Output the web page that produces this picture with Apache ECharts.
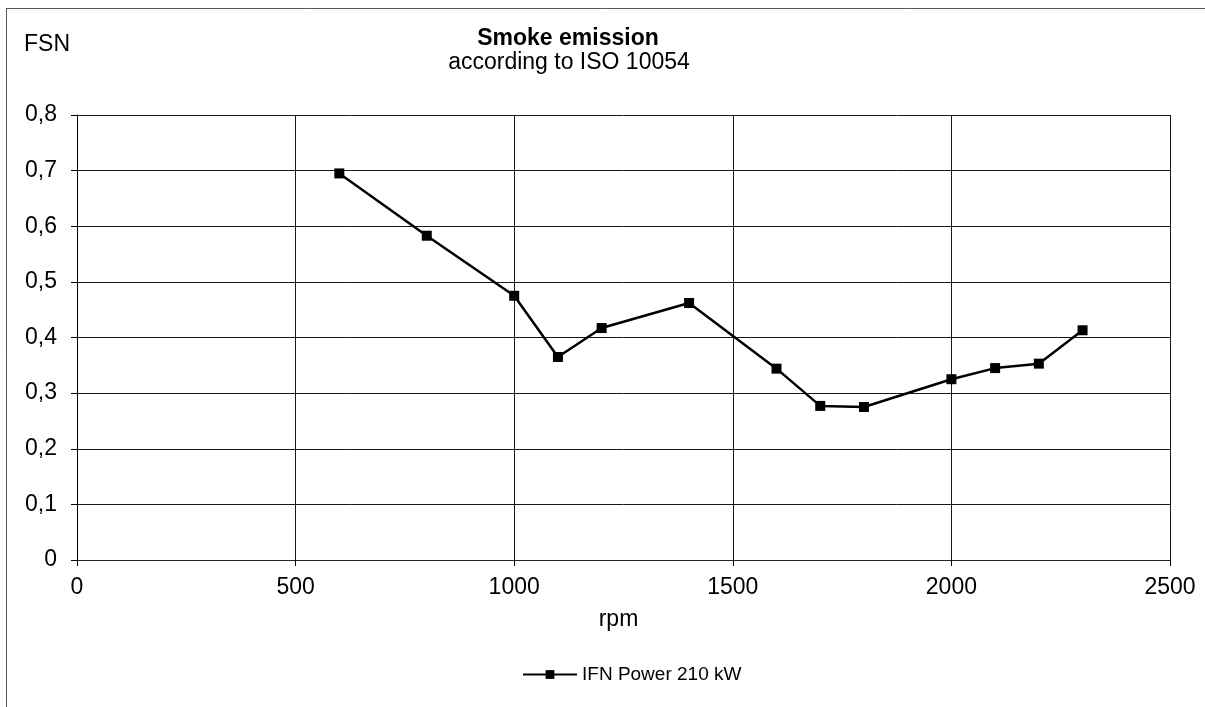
<!DOCTYPE html>
<html>
<head>
<meta charset="utf-8">
<style>
  html, body { margin: 0; padding: 0; background: #fff; }
  #chart { width: 1205px; height: 707px; }
</style>
<script src="https://cdn.jsdelivr.net/npm/echarts@6/dist/echarts.min.js"></script>
</head>
<body>
<div id="chart"></div>
<script>
// Engine speed (rpm) and measured smoke number (FSN)
const rpm = [600, 800, 1000, 1100, 1200, 1400, 1600, 1700, 1800, 2000, 2100, 2200, 2300];
const fsn = [0.695, 0.583, 0.475, 0.365, 0.417, 0.462, 0.344, 0.277, 0.275, 0.325, 0.345, 0.353, 0.413];
const seriesName = 'IFN Power 210 kW';
const titleText = 'Smoke emission';
const subtitleText = 'according to ISO 10054';
const yUnit = 'FSN';
const xUnit = 'rpm';

const points = rpm.map((r, i) => [r, fsn[i]]);
const font = '"Liberation Sans", Arial, sans-serif';

const chart = echarts.init(document.getElementById('chart'), null, { renderer: 'canvas' });
chart.setOption({
  backgroundColor: '#fff',
  animation: false,
  grid: { left: 77, right: 35, top: 115, bottom: 147, containLabel: false },
  graphic: [
    // outer frame (left and top edges)
    { type: 'line', shape: { x1: 6.5, y1: 8.5, x2: 6.5, y2: 707 }, style: { stroke: '#555', lineWidth: 1 } },
    { type: 'line', shape: { x1: 6, y1: 8.5, x2: 1205, y2: 8.5 }, style: { stroke: '#555', lineWidth: 1 } },
    { type: 'text', x: 568, y: 39, style: { text: titleText, font: 'bold 23px ' + font, fill: '#000', align: 'center', verticalAlign: 'middle' } },
    { type: 'text', x: 569, y: 63, style: { text: subtitleText, font: '23px ' + font, fill: '#000', align: 'center', verticalAlign: 'middle' } },
    { type: 'text', x: 24, y: 45, style: { text: yUnit, font: '23px ' + font, fill: '#000', align: 'left', verticalAlign: 'middle' } }
  ],
  legend: {
    top: 665,
    left: 522,
    padding: 0,
    itemWidth: 54,
    itemHeight: 11,
    textStyle: { fontFamily: font, fontSize: 19, color: '#000' },
    data: [{ name: seriesName }]
  },
  xAxis: {
    type: 'value',
    min: 0,
    max: 2500,
    interval: 500,
    name: xUnit,
    nameLocation: 'middle',
    nameGap: 48,
    nameTextStyle: { fontFamily: font, fontSize: 23, color: '#000', padding: [0, 0, 0, -10] },
    axisLine: { show: true, onZero: false, lineStyle: { color: '#222', width: 1 } },
    axisTick: { show: true, length: 6, lineStyle: { color: '#000' } },
    axisLabel: { fontFamily: font, fontSize: 23, color: '#000', margin: 16, formatter: v => String(v) },
    splitLine: { show: true, lineStyle: { color: '#1a1a1a', width: 1 } }
  },
  yAxis: {
    type: 'value',
    min: 0,
    max: 0.8,
    interval: 0.1,
    axisLine: { show: true, onZero: false, lineStyle: { color: '#000', width: 1 } },
    axisTick: { show: true, length: 6, lineStyle: { color: '#000' } },
    axisLabel: {
      fontFamily: font, fontSize: 23, color: '#000', margin: 20,
      formatter: v => (Math.round(v * 10) / 10).toString().replace('.', ',')
    },
    splitLine: { show: true, lineStyle: { color: '#1a1a1a', width: 1 } }
  },
  series: [{
    name: seriesName,
    type: 'line',
    data: points,
    symbol: 'rect',
    symbolSize: 10,
    color: '#000',
    lineStyle: { color: '#000', width: 2.5 },
    itemStyle: { color: '#000' }
  }]
});
</script>
</body>
</html>
